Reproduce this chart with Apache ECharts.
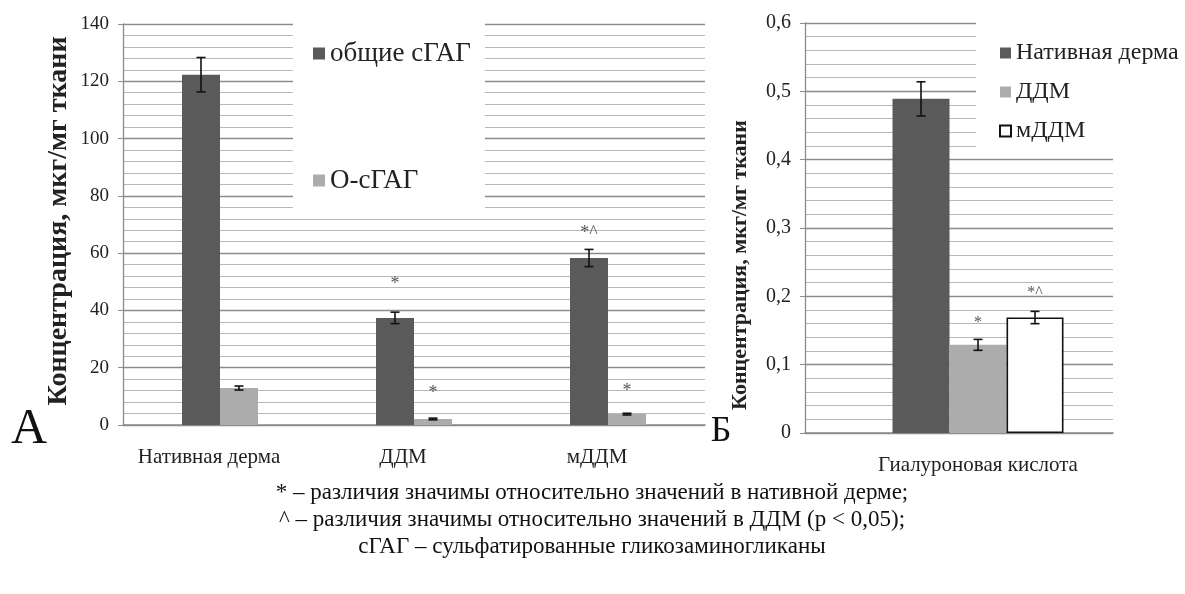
<!DOCTYPE html>
<html>
<head>
<meta charset="utf-8">
<script src="https://cdn.jsdelivr.net/npm/echarts@6/dist/echarts.min.js"></script>
<style>
html,body{margin:0;padding:0;background:#fff;}
#chart{width:1185px;height:594px;}
</style>
</head>
<body>
<div id="chart"></div>
<script>
// ---------- Data: panel A ----------
const leftCategories = ['Нативная дерма', 'ДДМ', 'мДДМ'];
const totalSGAG = [122.3, 37.4, 58.3];
const totalSGAGErr = [6.0, 2.0, 3.0];
const oSGAG = [12.9, 2.1, 3.8];
const oSGAGErr = [0.7, 0.3, 0.3];
const totalSig = ['', '*', '*^'];
const totalSigY = [null, 49, 67];
const oSig = ['', '*', '*'];
const oSigY = [null, 11.2, 11.9];
const leftSeriesNames = ['общие сГАГ', 'О-сГАГ'];

// ---------- Data: panel Б ----------
const rightCategories = ['Гиалуроновая кислота'];
const rightSeriesNames = ['Нативная дерма', 'ДДМ', 'мДДМ'];
const hyalNative = [0.489];
const hyalNativeErr = [0.025];
const hyalDDM = [0.129];
const hyalDDMErr = [0.008];
const hyalMDDM = [0.169];
const hyalMDDMErr = [0.009];
const hyalSig = ['', '*', '*^'];
const hyalSigY = [null, 0.162, 0.205];

const yTitle = 'Концентрация, мкг/мг ткани';
const notes = [
  '* – различия значимы относительно значений в нативной дерме;',
  '^ – различия значимы относительно значений в ДДМ (p < 0,05);',
  'сГАГ – сульфатированные гликозаминогликаны'
];

// ---------- Styles ----------
const SERIF = '"Liberation Serif", "DejaVu Serif", serif';
const DARK = '#5a5a5a';
const LIGHT = '#acacac';
const LEFT_BW = 38;
const RIGHT_BW = 57;

function errSeries(values, errs, slot, nSlots, bw, xi, yi) {
  return {
    type: 'custom', xAxisIndex: xi, yAxisIndex: yi, z: 5, silent: true,
    data: values.map((v, i) => [i, v, errs[i]]),
    renderItem: function (params, api) {
      const i = api.value(0), v = api.value(1), e = api.value(2);
      const top = api.coord([i, v + e]);
      const bot = api.coord([i, v - e]);
      const x = top[0] + (slot - (nSlots - 1) / 2) * bw;
      const cap = 4.5;
      const st = { stroke: '#111', lineWidth: 1.6 };
      return { type: 'group', children: [
        { type: 'line', shape: { x1: x, y1: top[1], x2: x, y2: bot[1] }, style: st },
        { type: 'line', shape: { x1: x - cap, y1: top[1], x2: x + cap, y2: top[1] }, style: st },
        { type: 'line', shape: { x1: x - cap, y1: bot[1], x2: x + cap, y2: bot[1] }, style: st }
      ]};
    }
  };
}

function sigSeries(labels, ys, slot, nSlots, bw, xi, yi, fs) {
  return {
    type: 'custom', xAxisIndex: xi, yAxisIndex: yi, z: 5, silent: true,
    data: labels.map((t, i) => [i, ys[i] == null ? 0 : ys[i]]),
    renderItem: function (params, api) {
      const i = api.value(0);
      const t = labels[i];
      if (!t) return null;
      const p = api.coord([i, api.value(1)]);
      const x = p[0] + (slot - (nSlots - 1) / 2) * bw;
      return { type: 'text', style: { x: x, y: p[1], text: t, fill: '#555',
        font: fs + 'px ' + SERIF, textAlign: 'center', textVerticalAlign: 'middle' } };
    }
  };
}

const chart = echarts.init(document.getElementById('chart'));

const gridLineMajor = { show: true, lineStyle: { color: '#8c8c8c', width: 1.4 } };
const gridLineMinor = { show: true, lineStyle: { color: '#b8b8b8', width: 1 } };

const option = {
  backgroundColor: '#fff',
  animation: false,
  grid: [
    { left: 123, right: 480, top: 24, bottom: 169 },
    { left: 805, right: 34, top: 23, bottom: 161 },
    { left: 805, right: 72, top: 23, bottom: 161 }
  ],
  xAxis: [
    { gridIndex: 0, type: 'category', data: leftCategories,
      axisLine: { lineStyle: { color: '#8c8c8c', width: 1.5 } }, axisTick: { show: false },
      axisLabel: { fontFamily: SERIF, fontSize: 21, color: '#222', margin: 22, padding: [0, 22, 0, 0] } },
    { gridIndex: 1, type: 'category', data: rightCategories,
      axisLine: { show: false }, axisTick: { show: false },
      axisLabel: { fontFamily: SERIF, fontSize: 21, color: '#222', margin: 22 } },
    { gridIndex: 2, type: 'category', data: rightCategories,
      axisLine: { lineStyle: { color: '#8c8c8c', width: 1.5 } }, axisTick: { show: false },
      axisLabel: { show: false } }
  ],
  yAxis: [
    { gridIndex: 0, type: 'value', min: 0, max: 140, interval: 20,
      axisLine: { show: true, lineStyle: { color: '#8c8c8c', width: 1.3 } },
      axisTick: { show: true, length: 5, lineStyle: { color: '#8c8c8c' } },
      axisLabel: { fontFamily: SERIF, fontSize: 19, color: '#222', margin: 14 },
      splitLine: gridLineMajor,
      minorTick: { show: false, splitNumber: 5 },
      minorSplitLine: gridLineMinor },
    { gridIndex: 1, type: 'value', min: 0, max: 0.6, interval: 0.1,
      axisLine: { show: false }, axisTick: { show: false }, axisLabel: { show: false },
      splitLine: { show: false } },
    { gridIndex: 2, type: 'value', min: 0, max: 0.6, interval: 0.1,
      axisLine: { show: true, lineStyle: { color: '#8c8c8c', width: 1.3 } },
      axisTick: { show: true, length: 5, lineStyle: { color: '#8c8c8c' } },
      axisLabel: { fontFamily: SERIF, fontSize: 20, color: '#222', margin: 14,
        formatter: v => String(Math.round(v * 10) / 10).replace('.', ',') },
      splitLine: gridLineMajor,
      minorTick: { show: false, splitNumber: 5 },
      minorSplitLine: gridLineMinor }
  ],
  legend: [
    { data: leftSeriesNames, orient: 'vertical', left: 293, top: 10,
      padding: [30, 14, 24, 20], itemGap: 100, backgroundColor: '#fff',
      itemWidth: 12, itemHeight: 12, icon: 'rect', z: 10,
      textStyle: { fontFamily: SERIF, fontSize: 27, color: '#222' } },
    { data: rightSeriesNames, orient: 'vertical', left: 976, top: 0,
      padding: [41, 5, 5, 23], itemGap: 15, backgroundColor: '#fff',
      itemWidth: 11, itemHeight: 11, icon: 'rect', z: 10,
      textStyle: { fontFamily: SERIF, fontSize: 24, color: '#222' } }
  ],
  series: [
    { name: leftSeriesNames[0], type: 'bar', xAxisIndex: 0, yAxisIndex: 0, data: totalSGAG,
      barWidth: LEFT_BW, barGap: '0%', itemStyle: { color: DARK } },
    { name: leftSeriesNames[1], type: 'bar', xAxisIndex: 0, yAxisIndex: 0, data: oSGAG,
      barWidth: LEFT_BW, barGap: '0%', itemStyle: { color: LIGHT } },
    errSeries(totalSGAG, totalSGAGErr, 0, 2, LEFT_BW, 0, 0),
    errSeries(oSGAG, oSGAGErr, 1, 2, LEFT_BW, 0, 0),
    sigSeries(totalSig, totalSigY, 0, 2, LEFT_BW, 0, 0, 18),
    sigSeries(oSig, oSigY, 1, 2, LEFT_BW, 0, 0, 18),

    { name: rightSeriesNames[0], type: 'bar', xAxisIndex: 1, yAxisIndex: 1, data: hyalNative,
      barWidth: RIGHT_BW, barGap: '0%', itemStyle: { color: DARK } },
    { name: rightSeriesNames[1], type: 'bar', xAxisIndex: 1, yAxisIndex: 1, data: hyalDDM,
      barWidth: RIGHT_BW, barGap: '0%', itemStyle: { color: LIGHT } },
    { name: rightSeriesNames[2], type: 'bar', xAxisIndex: 1, yAxisIndex: 1, data: hyalMDDM,
      barWidth: RIGHT_BW, barGap: '0%', itemStyle: { color: '#fff', borderColor: '#111', borderWidth: 1.6 } },
    errSeries(hyalNative, hyalNativeErr, 0, 3, RIGHT_BW, 1, 1),
    errSeries(hyalDDM, hyalDDMErr, 1, 3, RIGHT_BW, 1, 1),
    errSeries(hyalMDDM, hyalMDDMErr, 2, 3, RIGHT_BW, 1, 1),
    sigSeries([hyalSig[1]], [hyalSigY[1]], 1, 3, RIGHT_BW, 1, 1, 16),
    sigSeries([hyalSig[2]], [hyalSigY[2]], 2, 3, RIGHT_BW, 1, 1, 16)
  ],
  graphic: [
    { type: 'text', x: 59, y: 221, rotation: Math.PI / 2,
      style: { text: yTitle, font: 'bold 28px ' + SERIF, fill: '#222', textAlign: 'center', textVerticalAlign: 'middle' } },
    { type: 'text', x: 740, y: 265, rotation: Math.PI / 2,
      style: { text: yTitle, font: 'bold 22px ' + SERIF, fill: '#222', textAlign: 'center', textVerticalAlign: 'middle' } },
    { type: 'text', x: 29, y: 430,
      style: { text: 'А', font: '50px ' + SERIF, fill: '#111', textAlign: 'center', textVerticalAlign: 'middle' } },
    { type: 'text', x: 721, y: 432,
      style: { text: 'Б', font: '36px ' + SERIF, fill: '#111', textAlign: 'center', textVerticalAlign: 'middle' } },
    { type: 'text', x: 592, y: 493,
      style: { text: notes[0], font: '23px ' + SERIF, fill: '#111', textAlign: 'center', textVerticalAlign: 'middle' } },
    { type: 'text', x: 592, y: 520,
      style: { text: notes[1], font: '23px ' + SERIF, fill: '#111', textAlign: 'center', textVerticalAlign: 'middle' } },
    { type: 'text', x: 592, y: 547,
      style: { text: notes[2], font: '23px ' + SERIF, fill: '#111', textAlign: 'center', textVerticalAlign: 'middle' } }
  ]
};
chart.setOption(option);
</script>
</body>
</html>
